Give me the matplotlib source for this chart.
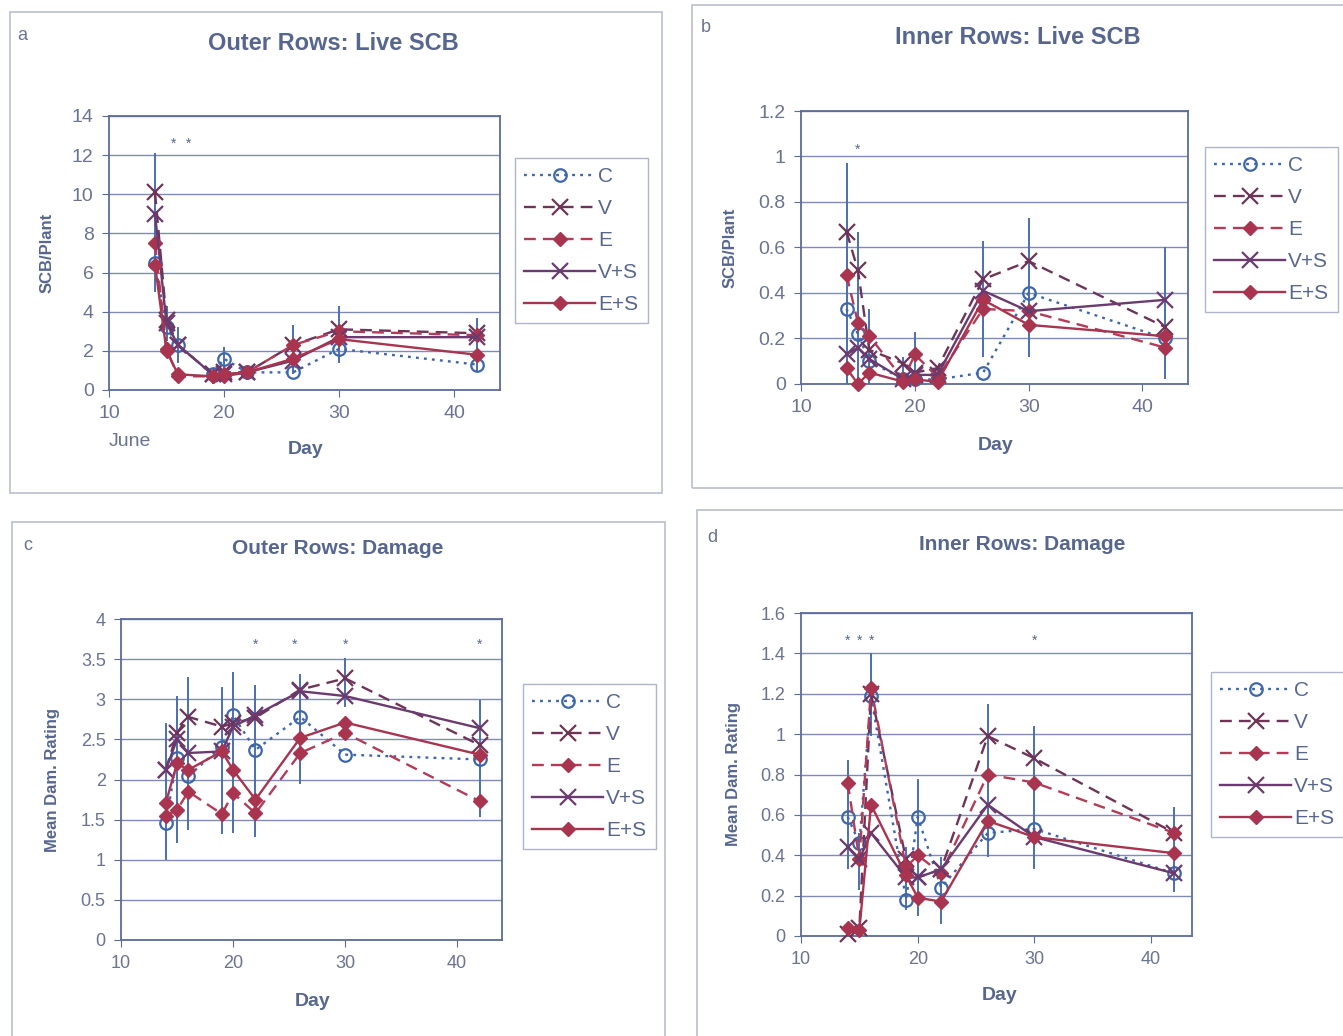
import matplotlib
matplotlib.use('Agg')
import matplotlib.pyplot as plt
from matplotlib.patches import Rectangle
from matplotlib.ticker import MultipleLocator, FuncFormatter

plt.rcParams['font.family'] = ['Liberation Sans', 'DejaVu Sans']

W, H = 1343, 1036

# sampling days (June)
days = [14, 15, 16, 19, 20, 22, 26, 30, 42]
series_names = ['C', 'V', 'E', 'V+S', 'E+S']

# a: outer rows, live SCB per plant
a_C = [6.5, 3.2, 2.3, 0.8, 1.6, 0.9, 0.9, 2.1, 1.3]
a_V = [10.1, 3.6, 2.3, 0.8, 0.9, 0.9, 2.3, 3.1, 2.9]
a_E = [7.5, 2.1, 0.7, 0.7, 0.7, 0.9, 2.3, 3.0, 2.8]
a_VS = [9.0, 3.4, 2.3, 0.8, 0.8, 0.9, 1.5, 2.7, 2.7]
a_ES = [6.4, 2.0, 0.8, 0.7, 0.8, 0.9, 1.6, 2.6, 1.8]
a_lo = [5.0, 2.5, 1.4, 0.3, 0.8, 0.5, 0.8, 1.4, 0.9]
a_hi = [12.1, 4.3, 3.2, 1.0, 2.2, 1.2, 3.3, 4.3, 3.7]
a_stars = [15.6, 16.9]

# b: inner rows, live SCB per plant
b_C = [0.33, 0.22, 0.10, 0.02, 0.02, 0.02, 0.05, 0.40, 0.20]
b_V = [0.67, 0.50, 0.15, 0.09, 0.05, 0.07, 0.46, 0.54, 0.25]
b_E = [0.48, 0.27, 0.21, 0.02, 0.13, 0.03, 0.33, 0.32, 0.16]
b_VS = [0.13, 0.16, 0.11, 0.02, 0.04, 0.04, 0.41, 0.32, 0.37]
b_ES = [0.07, 0.00, 0.05, 0.01, 0.02, 0.01, 0.37, 0.26, 0.21]
b_lo = [0.0, 0.0, 0.0, 0.0, 0.0, 0.0, 0.12, 0.12, 0.02]
b_hi = [0.97, 0.67, 0.33, 0.12, 0.23, 0.08, 0.63, 0.73, 0.60]
b_stars = [15.0]

# c: outer rows, mean damage rating
c_C = [1.46, 2.27, 2.04, 2.41, 2.80, 2.37, 2.78, 2.31, 2.25]
c_V = [2.12, 2.58, 2.78, 2.66, 2.70, 2.77, 3.12, 3.26, 2.43]
c_E = [1.55, 1.62, 1.85, 1.57, 1.83, 1.58, 2.33, 2.58, 1.73]
c_VS = [2.12, 2.50, 2.33, 2.35, 2.66, 2.80, 3.10, 3.04, 2.64]
c_ES = [1.71, 2.20, 2.12, 2.35, 2.12, 1.75, 2.52, 2.71, 2.31]
c_lo = [1.0, 1.21, 1.37, 1.32, 1.33, 1.28, 1.95, 2.9, 1.53]
c_hi = [2.7, 3.04, 3.28, 3.15, 3.34, 3.18, 3.32, 3.51, 2.99]
c_stars = [22, 25.5, 30, 42]

# d: inner rows, mean damage rating
d_C = [0.59, 0.46, 1.19, 0.18, 0.59, 0.24, 0.51, 0.53, 0.31]
d_V = [0.01, 0.04, 1.20, 0.38, 0.29, 0.33, 0.99, 0.88, 0.51]
d_E = [0.76, 0.38, 1.23, 0.34, 0.40, 0.31, 0.80, 0.76, 0.51]
d_VS = [0.44, 0.38, 0.51, 0.29, 0.29, 0.33, 0.65, 0.49, 0.31]
d_ES = [0.04, 0.03, 0.65, 0.30, 0.19, 0.17, 0.57, 0.49, 0.41]
d_lo = [0.33, 0.23, 0.99, 0.13, 0.10, 0.06, 0.39, 0.33, 0.22]
d_hi = [0.87, 0.51, 1.40, 0.44, 0.78, 0.39, 1.15, 1.04, 0.64]
d_stars = [14, 15, 16, 30]

TXT = '#56668f'
GRID = '#7d8bb5'
styles = [
    dict(color='#3d67aa', ls=(0, (1.2, 2.2)), marker='o', mfc='none', mec='#3d67aa', ms=9, mew=1.6),
    dict(color='#6e3458', ls=(0, (5, 3)), marker='x', mec='#6e3458', ms=11, mew=1.6),
    dict(color='#b23c58', ls=(0, (5, 3)), marker='D', mfc='#a8344f', mec='#a8344f', ms=7.5),
    dict(color='#6b3a6e', ls='-', marker='x', mec='#6b3a6e', ms=11, mew=1.6),
    dict(color='#a8344f', ls='-', marker='D', mfc='#a8344f', mec='#a8344f', ms=7.5),
]

fig = plt.figure(figsize=(W / 100, H / 100), dpi=100)
fig.patch.set_facecolor('white')


def fx(x):
    return x / W


def fy(y):
    return 1 - y / H


def frame(x0, y0, x1, y1):
    fig.add_artist(Rectangle((fx(x0), fy(y1)), fx(x1 - x0), y1 / H - y0 / H,
                             transform=fig.transFigure, fill=False,
                             edgecolor='#b9bfcc', lw=1.2))


frame(10, 12, 662, 493)
frame(692, 5, 1345, 488)
frame(12, 522, 665, 1040)
frame(697, 510, 1345, 1040)


def panel(box, data, lo, hi, stars, star_y, ylim, ystep, title, title_xy, title_fs,
          letter, letter_xy, ylabel, ylabel_x, xlabel_xy, leg_xy, tick_fs, xmax=44):
    left, top, right, bottom = box
    ax = fig.add_axes([fx(left), fy(bottom), (right - left) / W, (bottom - top) / H])
    ax.set_xlim(10, xmax)
    ax.set_ylim(*ylim)
    ax.yaxis.set_major_locator(MultipleLocator(ystep))
    ax.xaxis.set_major_locator(MultipleLocator(10))
    ax.yaxis.set_major_formatter(FuncFormatter(lambda v, p: '%g' % round(v, 2)))
    ax.grid(axis='y', color=GRID, lw=1.0)
    ax.set_axisbelow(True)
    for s in ax.spines.values():
        s.set_color('#5c6c99')
        s.set_linewidth(1.3)
    ax.tick_params(direction='out', length=5, color='#5c6c99', labelcolor='#6b7391',
                   labelsize=tick_fs, pad=6)
    ax.vlines(days, lo, hi, color='#4d6fae', lw=1.4, zorder=2)
    handles = []
    for name, vals, st in zip(series_names, data, styles):
        h, = ax.plot(days, vals, lw=1.7, label=name, zorder=3, clip_on=False, **st)
        handles.append(h)
    for sx in stars:
        ax.text(sx, star_y, '*', color=TXT, fontsize=10, ha='center', va='center')
    fig.text(fx(title_xy[0]), fy(title_xy[1]), title, color=TXT, fontsize=title_fs,
             fontweight='bold', ha='center', va='center')
    fig.text(fx(letter_xy[0]), fy(letter_xy[1]), letter, color='#6b7391', fontsize=13,
             ha='center', va='center')
    fig.text(fx(ylabel_x), (fy(top) + fy(bottom)) / 2, ylabel, color=TXT, fontsize=12,
             fontweight='bold', rotation=90, ha='center', va='center')
    fig.text(fx(xlabel_xy[0]), fy(xlabel_xy[1]), 'Day', color=TXT, fontsize=14,
             fontweight='bold', ha='center', va='center')
    leg = ax.legend(handles=handles, loc='upper left',
                    bbox_to_anchor=(fx(leg_xy[0]), fy(leg_xy[1])),
                    bbox_transform=fig.transFigure, borderaxespad=0, fancybox=False,
                    edgecolor='#9aa3bd', fontsize=15, handlelength=3.4,
                    handletextpad=0.15, labelspacing=0.62, borderpad=0.45)
    leg.get_frame().set_linewidth(1.0)
    for t in leg.get_texts():
        t.set_color(TXT)
    return ax


ax_a = panel((109, 116, 500, 390), [a_C, a_V, a_E, a_VS, a_ES], a_lo, a_hi, a_stars, 12.6,
             (0, 14), 2, 'Outer Rows: Live SCB', (333, 44), 17, 'a', (22, 35),
             'SCB/Plant', 47, (306, 450), (515, 158), 14)
fig.text(fx(130), fy(441), 'June', color='#6b7391', fontsize=14, ha='center', va='center')

panel((801, 111, 1188, 384), [b_C, b_V, b_E, b_VS, b_ES], b_lo, b_hi, b_stars, 1.03,
      (0, 1.2), 0.2, 'Inner Rows: Live SCB', (1018, 37), 17, 'b', (706, 27),
      'SCB/Plant', 730, (996, 445), (1205, 147), 14)

panel((121, 619, 502, 940), [c_C, c_V, c_E, c_VS, c_ES], c_lo, c_hi, c_stars, 3.68,
      (0, 4), 0.5, 'Outer Rows: Damage', (338, 549), 15, 'c', (28, 545),
      'Mean Dam. Rating', 53, (313, 1001), (523, 684), 13)

panel((801, 613, 1192, 936), [d_C, d_V, d_E, d_VS, d_ES], d_lo, d_hi, d_stars, 1.46,
      (0, 1.6), 0.2, 'Inner Rows: Damage', (1022, 544), 15, 'd', (712, 537),
      'Mean Dam. Rating', 733, (1000, 996), (1211, 672), 13, xmax=43.5)

fig.savefig('out.png', dpi=100)
